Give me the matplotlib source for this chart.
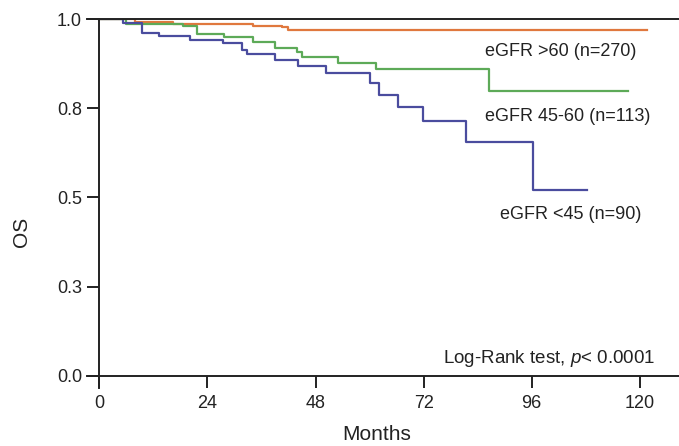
import matplotlib
matplotlib.use("Agg")
import matplotlib.pyplot as plt

plt.rcParams['font.family'] = ['Liberation Sans', 'DejaVu Sans']
plt.rcParams['mathtext.fontset'] = 'custom'
plt.rcParams['mathtext.it'] = 'Liberation Sans:italic'
plt.rcParams['mathtext.rm'] = 'Liberation Sans'

# Kaplan-Meier step data (months, overall survival)
months_gt60 = [0, 8, 16.4, 34.2, 40.5, 42, 121.6]
os_gt60 = [1.0, 0.992, 0.986, 0.981, 0.977, 0.969, 0.969]

months_45_60 = [0, 6, 18.6, 21.6, 27.6, 34.2, 39.0, 44, 45, 53.1, 61.4, 86.6, 117.4]
os_45_60 = [1.0, 0.986, 0.981, 0.958, 0.950, 0.936, 0.920, 0.908, 0.894, 0.876, 0.859, 0.799, 0.799]

months_lt45 = [0, 5.3, 9.5, 13.3, 20.2, 27.4, 31.6, 32.8, 39.0, 44.2, 50.4, 60.1, 62, 66.3, 71.9, 81.5, 96.3, 108.3]
os_lt45 = [1.0, 0.99, 0.962, 0.952, 0.941, 0.932, 0.913, 0.902, 0.885, 0.869, 0.848, 0.820, 0.787, 0.754, 0.715, 0.654, 0.521, 0.521]

group_labels = ["eGFR >60 (n=270)", "eGFR 45-60 (n=113)", "eGFR <45 (n=90)"]
x_ticks = [0, 24, 48, 72, 96, 120]
y_ticks = [0.0, 0.25, 0.5, 0.75, 1.0]
y_tick_labels = ["0.0", "0.3", "0.5", "0.8", "1.0"]

c_orange = "#E0783E"
c_green = "#5DAA58"
c_blue = "#4A4C9E"
c_axis = "#222222"

fig = plt.figure(figsize=(6.79, 4.46), dpi=100)
ax = fig.add_axes([86.7 / 679, (446 - 388) / 446, 1 - 86.7 / 679, (388 - 19) / 446])

ax.step(months_gt60, os_gt60, where='post', color=c_orange, lw=1.6)
ax.step(months_45_60, os_45_60, where='post', color=c_green, lw=1.6)
ax.step(months_lt45, os_lt45, where='post', color=c_blue, lw=1.6)

ax.set_xlim(-2.8, 128.7)
ax.set_ylim(-0.034, 1.0)

for s in ['left', 'bottom', 'top']:
    ax.spines[s].set_color(c_axis)
    ax.spines[s].set_linewidth(1.4)
ax.spines['right'].set_visible(False)
ax.spines['left'].set_position(('data', 0))
ax.spines['bottom'].set_position(('data', 0))

ax.set_xticks(x_ticks)
ax.set_xticklabels([str(v) for v in x_ticks])
ax.set_yticks(y_ticks)
ax.set_yticklabels(y_tick_labels)
ax.tick_params(axis='both', direction='out', length=8.5, width=1.4, color=c_axis,
               labelsize=13, labelcolor='#222222')
ax.tick_params(axis='x', pad=5)
ax.tick_params(axis='y', pad=4)

txt_kw = dict(fontsize=13, color='#222222', va='center', ha='left')
ax.text(85.7, 0.908, group_labels[0], **txt_kw)
ax.text(85.7, 0.728, group_labels[1], **txt_kw)
ax.text(89.0, 0.451, group_labels[2], **txt_kw)
ax.text(76.3, 0.050, "Log-Rank test, $p$< 0.0001", fontsize=13.5, color='#222222', va='center', ha='left')

fig.text(377 / 679, 1 - 434 / 446, "Months", fontsize=15, ha='center', va='center', color='#222222')
fig.text(22 / 679, 1 - 232 / 446, "OS", fontsize=15, ha='center', va='center', rotation=90, color='#222222')

fig.savefig("out.png", dpi=100)
